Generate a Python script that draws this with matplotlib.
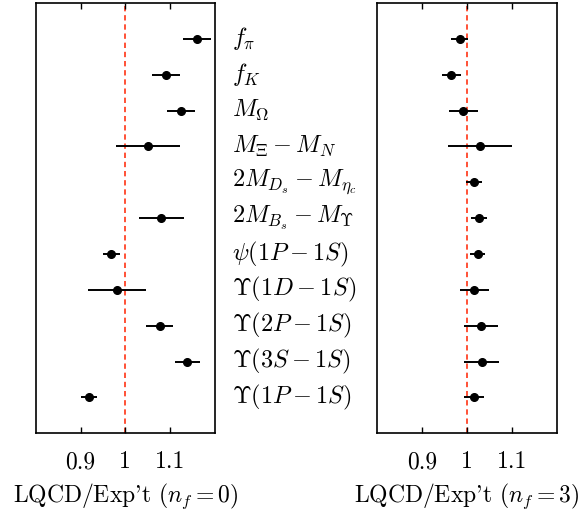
import numpy as np
import matplotlib
matplotlib.use("Agg")
import matplotlib.pyplot as plt

plt.rcParams['font.family'] = 'cmr10'
plt.rcParams['mathtext.fontset'] = 'cm'
plt.rcParams['axes.formatter.use_mathtext'] = True

labels = [r'$f_\pi$', r'$f_K$', r'$M_\Omega$', r'$M_\Xi - M_N$',
          r'$2M_{D_s} - M_{\eta_c}$', r'$2M_{B_s} - M_\Upsilon$',
          r'$\psi(1P-1S)$', r'$\Upsilon(1D-1S)$', r'$\Upsilon(2P-1S)$',
          r'$\Upsilon(3S-1S)$', r'$\Upsilon(1P-1S)$']

# quenched (n_f = 0)
val0 = [1.160, 1.090, 1.124, 1.050, np.nan, 1.080, 0.969, 0.982, 1.077, 1.138, 0.919]
err0 = [0.031, 0.031, 0.032, 0.071, np.nan, 0.050, 0.018, 0.065, 0.030, 0.028, 0.018]

# n_f = 3
val3 = [0.984, 0.966, 0.992, 1.030, 1.016, 1.027, 1.024, 1.017, 1.032, 1.033, 1.016]
err3 = [0.019, 0.021, 0.032, 0.071, 0.017, 0.017, 0.016, 0.033, 0.037, 0.038, 0.022]

xticks = [0.9, 1.0, 1.1]
xticklabels = ['0.9', '1', '1.1']

fig = plt.figure(figsize=(5.79, 5.19), dpi=100)
W, H = 579, 519
ax1 = fig.add_axes([35.7 / W, (H - 433.3) / H, 179.3 / W, 430.3 / H])
ax2 = fig.add_axes([376.7 / W, (H - 433.3) / H, 180 / W, 430.3 / H])

y = np.arange(1, len(labels) + 1)

for ax, v, e, nf in [(ax1, val0, err0, 0), (ax2, val3, err3, 3)]:
    ax.axvline(1.0, color='#ff2200', ls='--', lw=1.1, dashes=(3.5, 2.5), zorder=1)
    ax.errorbar(v, y, xerr=e, fmt='o', color='black', ms=5.5, elinewidth=1.4,
                capsize=0, zorder=3)
    ax.set_xlim(0.8, 1.2)
    ax.set_ylim(12, 0)
    ax.set_yticks([])
    ax.set_xticks(xticks)
    ax.set_xticklabels(xticklabels)
    ax.tick_params(axis='x', direction='in', top=True, bottom=True,
                   length=4, width=1, labelsize=17, pad=13)
    ax.set_xlabel(r"LQCD/Exp't ($n_f = %d$)" % nf, fontsize=17, labelpad=6)
    for s in ax.spines.values():
        s.set_linewidth(1.2)

for yi, lab in zip(y, labels):
    ax1.text(1.237, yi, lab, fontsize=17.5, va='center', ha='left', clip_on=False)

fig.savefig('out.png', dpi=100)
